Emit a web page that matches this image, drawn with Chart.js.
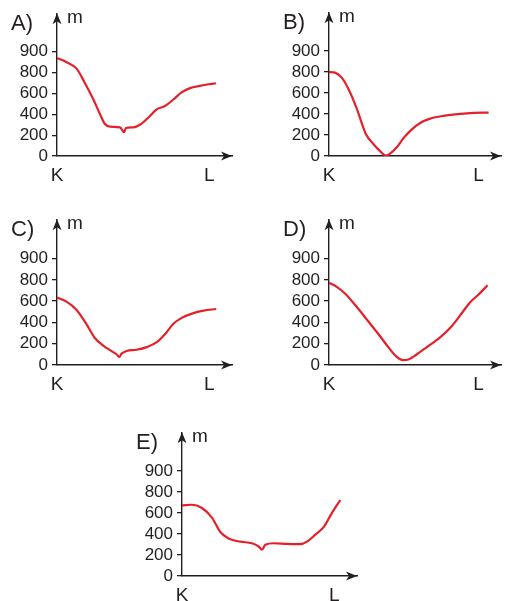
<!DOCTYPE html>
<html><head><meta charset="utf-8">
<script src="https://cdn.jsdelivr.net/npm/chart.js@4.4.1/dist/chart.umd.min.js"></script>
<style>
html,body{margin:0;padding:0;background:#fff;width:511px;height:601px;overflow:hidden;position:relative;}
canvas{position:absolute;}
</style></head><body>
<script>
// ---- data ----
const panelNames = ['A)', 'B)', 'C)', 'D)', 'E)'];
const axisUnit = 'm';
const endpointLabels = ['K', 'L'];
const endpointPositions = [0, 87];
const yTickMeters = [0, 200, 400, 600, 800, 900];

const distA = [0, 5.5, 11.2, 16, 20.8, 24.6, 27.4, 30.3, 36, 38.3, 39.4, 43.6, 47.4, 52.2, 57, 61.7, 66.5, 71.2, 76, 81.7, 86.5, 90.9];
const elevA = [870, 850, 819, 698, 542, 401, 307, 282, 275, 228, 269, 275, 300, 369, 448, 479, 542, 610, 651, 673, 688, 698];

const distB = [0, 3.5, 7.4, 11.3, 16.1, 19, 21.5, 25.8, 29.7, 33.2, 35.5, 39.4, 43.3, 48.2, 53, 58.8, 66.6, 76.3, 84.1, 92.8];
const elevB = [800, 794, 747, 639, 454, 315, 207, 115, 46, 5, 22, 83, 170, 254, 315, 356, 383, 402, 411, 414];

const distC = [0, 5.4, 11.1, 16.9, 21.6, 26.4, 31.2, 34, 35.6, 36.9, 39.8, 45.5, 51.3, 57, 61.8, 66.5, 71.3, 77.1, 83.7, 91];
const elevC = [633, 596, 520, 382, 254, 183, 131, 101, 76, 107, 131, 143, 168, 214, 291, 388, 443, 483, 511, 526];

const distD = [0, 4.5, 9.3, 15.1, 22, 28.7, 34.5, 39.4, 42.9, 46.2, 51.1, 56.9, 64.6, 71.5, 77.3, 82.1, 87, 92.2];
const elevD = [773, 734, 672, 566, 428, 291, 168, 76, 46, 52, 101, 168, 260, 367, 489, 590, 663, 749];

const distE = [0, 5.7, 11.4, 17.1, 21.9, 26.6, 33.3, 40, 43.8, 45.7, 47.6, 52.3, 60, 67.6, 71.4, 76.2, 80.9, 85.7, 90.5];
const elevE = [673, 679, 648, 557, 419, 358, 327, 312, 281, 251, 297, 312, 306, 303, 327, 394, 465, 602, 724];

// ---- layout / style ----
const INK = '#231f20';
const RED = '#e5202a';
const FONT = '"Liberation Sans", Arial, Helvetica, sans-serif';
// axis origin (ox,oy), top arrow tip y, right arrow tip x
const geom = [
  {ox: 57, oy: 156, top: 9, right: 232},
  {ox: 329, oy: 156, top: 8, right: 501},
  {ox: 57, oy: 365, top: 215, right: 232},
  {ox: 329, oy: 365, top: 215, right: 501},
  {ox: 182, oy: 576, top: 428, right: 357}
];
const series = [[distA, elevA], [distB, elevB], [distC, elevC], [distD, elevD], [distE, elevE]];

// the printed axis places 900 one full step above 800
const toAxis = m => m <= 800 ? m : 800 + (m - 800) * 2;
const fromAxis = a => a <= 800 ? a : 800 + (a - 800) / 2;

const PADL = 57, PADT = 10, PADR = 12, PADB = 30;

const decor = {
  id: 'decor',
  afterDraw(chart) {
    const {ctx, chartArea: ca} = chart;
    const name = chart.options.plugins.decor.name;
    ctx.save();
    ctx.fillStyle = INK;
    ctx.textBaseline = 'alphabetic';
    ctx.textAlign = 'left';
    ctx.font = '22px ' + FONT;
    ctx.fillText(name, ca.left - 46, ca.top + 17);
    ctx.font = '19px ' + FONT;
    ctx.fillText(axisUnit, ca.left + 10, ca.top + 10);
    // arrowheads
    const x0 = ca.left, y0 = ca.bottom;
    ctx.beginPath();
    ctx.moveTo(x0, ca.top);
    ctx.lineTo(x0 - 4.5, ca.top + 11);
    ctx.lineTo(x0, ca.top + 8);
    ctx.lineTo(x0 + 4.5, ca.top + 11);
    ctx.closePath();
    ctx.fill();
    ctx.beginPath();
    ctx.moveTo(ca.right, y0);
    ctx.lineTo(ca.right - 11, y0 - 4.5);
    ctx.lineTo(ca.right - 8, y0);
    ctx.lineTo(ca.right - 11, y0 + 4.5);
    ctx.closePath();
    ctx.fill();
    ctx.restore();
  }
};

geom.forEach((g, i) => {
  const cv = document.createElement('canvas');
  const w = g.right - g.ox + PADL + PADR;
  const h = g.oy - g.top + PADT + PADB;
  cv.width = w; cv.height = h;
  cv.style.left = (g.ox - PADL) + 'px';
  cv.style.top = (g.top - PADT) + 'px';
  cv.style.width = w + 'px'; cv.style.height = h + 'px';
  document.body.appendChild(cv);
  const [xs, ys] = series[i];
  new Chart(cv, {
    type: 'line',
    data: {
      datasets: [{
        data: xs.map((x, k) => ({x: x, y: toAxis(ys[k])})),
        borderColor: RED,
        borderWidth: 2.2,
        pointRadius: 0,
        fill: false,
        cubicInterpolationMode: 'monotone'
      }]
    },
    plugins: [decor],
    options: {
      responsive: false,
      animation: false,
      devicePixelRatio: 1,
      layout: {padding: {left: 0, top: PADT, right: PADR, bottom: 0}},
      plugins: {legend: {display: false}, tooltip: {enabled: false}, decor: {name: panelNames[i]}},
      scales: {
        x: {
          type: 'linear', min: 0, max: 100,
          afterFit(s) { s.height = PADB; },
          afterBuildTicks(s) { s.ticks = endpointPositions.map(v => ({value: v})); },
          grid: {display: false, drawTicks: false},
          border: {display: true, color: INK, width: 1.4},
          ticks: {
            autoSkip: false, maxRotation: 0, padding: 8,
            color: INK, font: {family: FONT, size: 19},
            callback: (v, idx) => endpointLabels[idx]
          }
        },
        y: {
          type: 'linear', min: 0, max: 1370,
          afterFit(s) { s.width = PADL; },
          afterBuildTicks(s) { s.ticks = yTickMeters.map(m => ({value: toAxis(m)})); },
          grid: {drawOnChartArea: false, drawTicks: true, tickLength: 5, color: INK, lineWidth: 1.3},
          border: {display: true, color: INK, width: 1.4},
          ticks: {
            autoSkip: false, padding: 4,
            color: INK, font: {family: FONT, size: 17},
            callback: v => String(fromAxis(v))
          }
        }
      }
    }
  });
});
</script>
</body></html>
